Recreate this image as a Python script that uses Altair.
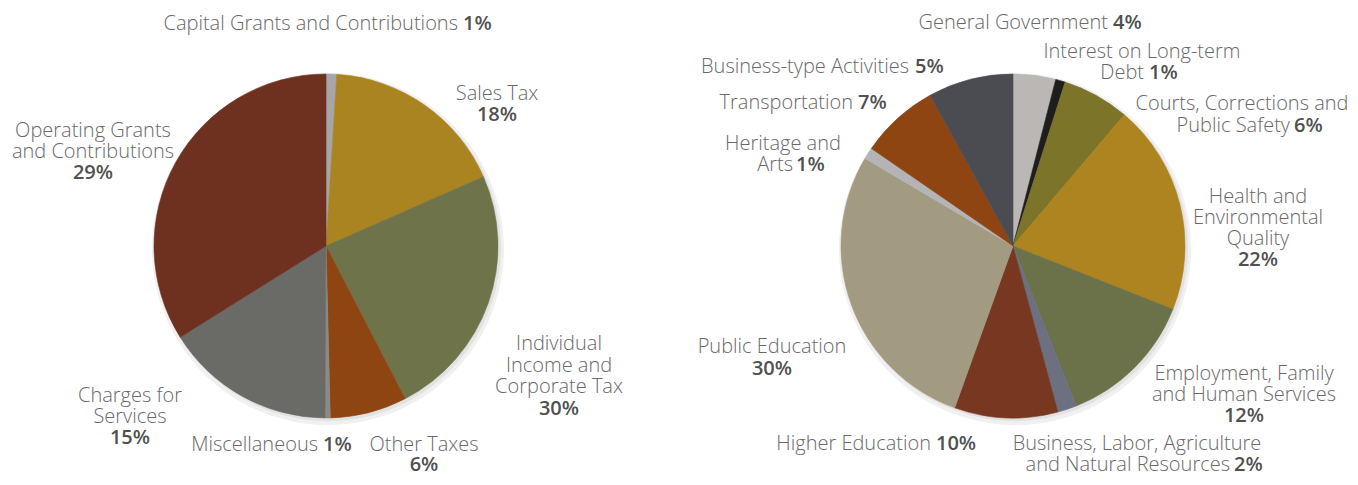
import altair as alt
import pandas as pd

# ---------------- data ----------------
rev_names = ["Capital Grants and Contributions", "Sales Tax",
             "Individual Income and Corporate Tax", "Other Taxes",
             "Miscellaneous", "Charges for Services",
             "Operating Grants and Contributions"]
rev_pct_label = [1, 18, 30, 6, 1, 15, 29]          # printed percentages
rev_slice = [1.0, 17.4, 24.0, 7.2, 0.5, 16.0, 33.9]  # drawn slice shares
rev_colors = ["#a6a6a9", "#aa8421", "#6f7349", "#8e4512",
              "#8b8a85", "#6a6a67", "#6e301f"]

exp_names = ["General Government", "Interest on Long-term Debt",
             "Courts, Corrections and Public Safety",
             "Health and Environmental Quality",
             "Employment, Family and Human Services",
             "Business, Labor, Agriculture and Natural Resources",
             "Higher Education", "Public Education", "Heritage and Arts",
             "Transportation", "Business-type Activities"]
exp_pct_label = [4, 1, 6, 22, 12, 2, 10, 30, 1, 7, 5]
exp_slice = [4.0, 0.9, 6.3, 19.8, 13.0, 1.8, 9.7, 28.0, 1.1, 7.4, 8.0]
exp_colors = ["#bab7b4", "#1e1e1e", "#7b7429", "#ad8420", "#6b7249",
              "#6c7080", "#773720", "#a39a82", "#b4b4b6", "#8f4512",
              "#4b4c52"]

# ---------------- label layout (page px) ----------------
# each: name lines [(text, x, y, align)], pct (x, y, align)
rev_layout = [
    ([("Capital Grants and Contributions", 458, 30, "right")], (463, 30, "left")),
    ([("Sales Tax", 497, 100, "center")], (497, 121, "center")),
    ([("Individual", 559, 350, "center"), ("Income and", 559, 372, "center"),
      ("Corporate Tax", 559, 393, "center")], (559, 415, "center")),
    ([("Other Taxes", 424, 451, "center")], (424, 471, "center")),
    ([("Miscellaneous", 318, 451, "right")], (323, 451, "left")),
    ([("Charges for", 130, 402, "center"), ("Services", 130, 423, "center")], (130, 444, "center")),
    ([("Operating Grants", 93, 137, "center"), ("and Contributions", 93, 158, "center")], (93, 179, "center")),
]
exp_layout = [
    ([("General Government", 1108, 29, "right")], (1113, 29, "left")),
    ([("Interest on Long-term", 1142, 58, "center"), ("Debt", 1144, 79, "right")], (1149, 79, "left")),
    ([("Courts, Corrections and", 1242, 110, "center"), ("Public Safety", 1290, 132, "right")], (1294, 132, "left")),
    ([("Health and", 1258, 203, "center"), ("Environmental", 1258, 224, "center"),
      ("Quality", 1258, 245, "center")], (1258, 266, "center")),
    ([("Employment, Family", 1244, 380, "center"), ("and Human Services", 1244, 401, "center")], (1244, 422, "center")),
    ([("Business, Labor, Agriculture", 1137, 450, "center"), ("and Natural Resources", 1230, 471, "right")], (1234, 471, "left")),
    ([("Higher Education", 931, 450, "right")], (936, 450, "left")),
    ([("Public Education", 772, 353, "center")], (772, 375, "center")),
    ([("Heritage and", 783, 150, "center"), ("Arts", 793, 171, "right")], (796, 171, "left")),
    ([("Transportation", 853, 109, "right")], (858, 109, "left")),
    ([("Business-type Activities", 909, 73, "right")], (915, 73, "left")),
]

MARGIN = 8
CY = 238
REV_CX = 318
EXP_CX = 1005
R = 172

def pie_df(names, slices, colors):
    return pd.DataFrame({"name": names, "slice": slices, "fill": colors,
                         "idx": list(range(len(names)))})

def label_rows(names, pcts, layout):
    rows = []
    for name, pct, (lines, (px, py, pa)) in zip(names, pcts, layout):
        for text, x, y, a in lines:
            rows.append({"text": text, "x": x - MARGIN, "y": y - MARGIN, "align": a, "bold": False})
        rows.append({"text": f"{pct}%", "x": px - MARGIN, "y": py - MARGIN, "align": pa, "bold": True})
    return rows

theta = alt.Theta("slice:Q", stack=True, scale=alt.Scale(domain=[0, 100]))
order = alt.Order("idx:Q")

layers = []
for df, cx in ((pie_df(rev_names, rev_slice, rev_colors), REV_CX),
               (pie_df(exp_names, exp_slice, exp_colors), EXP_CX)):
    base = alt.Chart(df)
    layers.append(base.mark_arc(radius=R + 4, color="#f0f0f0").encode(
        theta=theta, order=order, x=alt.value(cx + 2), y=alt.value(CY + 3)))
    layers.append(base.mark_arc(radius=R + 1, color="#e2e2e2").encode(
        theta=theta, order=order, x=alt.value(cx + 2), y=alt.value(CY + 2)))
    layers.append(base.mark_arc(radius=R, strokeWidth=0.6).encode(
        theta=theta, order=order,
        color=alt.Color("fill:N", scale=None),
        stroke=alt.Stroke("fill:N", scale=None),
        x=alt.value(cx), y=alt.value(CY)))

labels = pd.DataFrame(label_rows(rev_names, rev_pct_label, rev_layout) +
                      label_rows(exp_names, exp_pct_label, exp_layout))

for a in ("left", "center", "right"):
    for b in (False, True):
        sub = labels[(labels["align"] == a) & (labels["bold"] == b)]
        if sub.empty:
            continue
        layers.append(alt.Chart(sub).mark_text(
            align=a, baseline="alphabetic", font="Open Sans", fontSize=20,
            fontWeight=600 if b else 300,
            color="#505050" if b else "#686868").encode(
            x=alt.X("x:Q", scale=None), y=alt.Y("y:Q", scale=None),
            text="text:N"))

chart = alt.layer(*layers).properties(
    width=1342, height=469, padding=0, autosize="none", background="white"
).configure_view(stroke=None)

chart.save("out.html", embed_options={"renderer": "svg", "actions": False})
